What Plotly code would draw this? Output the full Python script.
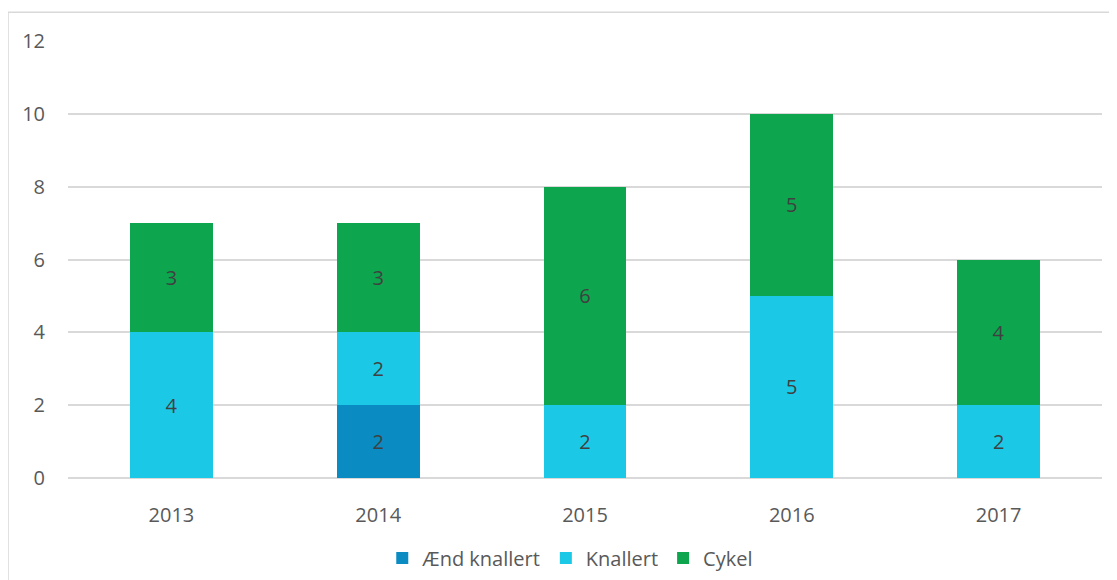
import plotly.graph_objects as go

years = ["2013", "2014", "2015", "2016", "2017"]
aend_knallert = [None, 2, None, None, None]
knallert = [4, 2, 2, 5, 2]
cykel = [3, 3, 6, 5, 4]

series = [
    ("Ænd knallert", aend_knallert, "#0A8BC2"),
    ("Knallert", knallert, "#1BC9E6"),
    ("Cykel", cykel, "#0DA64E"),
]

fig = go.Figure()
for name, vals, col in series:
    fig.add_trace(go.Bar(
        x=years, y=vals, name=name, marker_color=col, marker_line_width=0,
        text=[str(v) if v else "" for v in vals], textposition="inside",
        insidetextanchor="middle", textangle=0,
        textfont=dict(color="#404040", size=20, family="Open Sans"),
    ))

fig.update_layout(
    barmode="stack", bargap=0.6,
    width=1109, height=572,
    margin=dict(l=60, r=15, t=33, b=102, autoexpand=False),
    paper_bgcolor="white", plot_bgcolor="white",
    font=dict(family="Open Sans", color="#595959", size=20),
    legend=dict(orientation="h", xref="container", yref="container",
                x=0.507, xanchor="center", y=0.0385, yanchor="middle",
                font=dict(size=20, color="#595959"), traceorder="normal"),
    xaxis=dict(showline=False, ticks="", tickfont=dict(size=20), showgrid=False,
               ticklabelstandoff=23),
    yaxis=dict(range=[0, 12], dtick=2, showgrid=True, gridcolor="#D9D9D9", gridwidth=1.5,
               zeroline=True, zerolinecolor="#D9D9D9", zerolinewidth=1.5,
               tickfont=dict(size=20), ticklabelstandoff=22),
    shapes=[dict(type="rect", xref="paper", yref="paper", x0=-0.058, x1=1.2, y0=-0.5, y1=1.066,
                 line=dict(color="#D9D9D9", width=1.5), fillcolor="rgba(0,0,0,0)", layer="below")],
)

fig.write_html("out.html")
